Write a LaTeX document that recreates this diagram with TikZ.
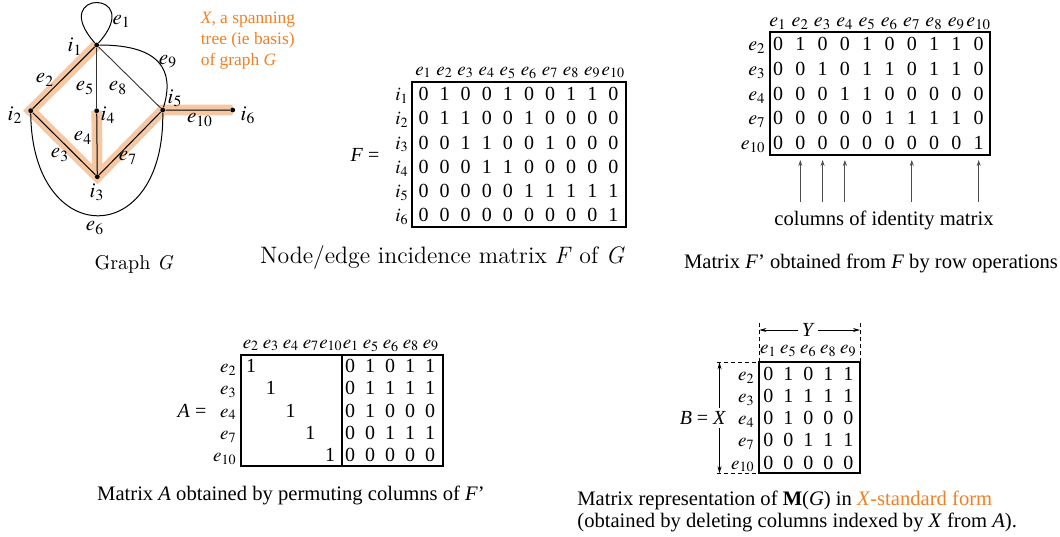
\documentclass[tikz,border=0pt]{standalone}
\usepackage{mathptmx}
\usepackage{fontspec}
\setmainfont{Liberation Serif}
\usetikzlibrary{arrows.meta,positioning}
\definecolor{treeorange}{RGB}{240,128,36}
\definecolor{treeband}{RGB}{246,199,163}
\pgfdeclarelayer{bg}
\pgfsetlayers{bg,main}
\tikzset{
  vtx/.style={circle,fill,inner sep=0pt,minimum size=2.4pt},
  glbl/.style={inner sep=0pt,font=\fontsize{10.5}{12}\selectfont},
  hdr/.style={inner sep=0pt,anchor=base,font=\fontsize{9.5}{11}\selectfont},
  rlbl/.style={inner sep=0pt,anchor=base east,font=\fontsize{9.5}{11}\selectfont},
  dig/.style={inner sep=0pt,anchor=base,font=\fontsize{10}{12}\selectfont},
  captxt/.style={inner sep=0pt,font=\fontsize{10.3}{12.5}\selectfont},
  mbox/.style={line width=0.9pt},
  idarr/.style={-{Stealth[length=3pt,width=2pt]},draw=black!70,line width=0.5pt},
  dimarr/.style={-{Stealth[length=3.5pt,width=2pt]},line width=0.4pt},
  guide/.style={dash pattern=on 2pt off 1.5pt,line width=0.4pt},
}
\begin{document}
\begin{tikzpicture}[x=0.5pt,y=-0.5pt]
\useasboundingbox (0,0) rectangle (1060,536);

% graph G
\node[vtx] (i1) at (96.7,45) {};
\node[vtx] (i2) at (30.7,110.7) {};
\node[vtx] (i3) at (97.3,176.7) {};
\node[vtx] (i4) at (96.7,110.7) {};
\node[vtx] (i5) at (162.7,110) {};
\node[vtx] (i6) at (232.7,110) {};
\begin{pgfonlayer}{bg}
  \draw[treeband,line width=5.3pt,line join=miter] (i1.center) -- (i2.center) -- (i3.center) -- (i5.center) -- (i6.center);
  \draw[treeband,line width=5.3pt] (i4.center) -- (i3.center);
\end{pgfonlayer}
\draw[line width=0.5pt] (i1) -- (i2) -- (i3) -- (i5) -- (i6);
\draw[line width=0.5pt] (i4) -- (i3);
\draw[line width=0.45pt,black!80] (i1) -- (i4);
\draw[line width=0.45pt,black!80] (i1) -- (i5);
\draw[line width=0.5pt] (i1) .. controls (46.7,-11) and (146.7,-11) .. (i1);
\draw[line width=0.5pt] (i1) .. controls (160,45) and (175,70) .. (i5);
\draw[line width=0.5pt] (i2) .. controls (32,250) and (165,250) .. (i5);
\node[glbl] (le1) at (121.7,21.7) {$e_1$};
\node[glbl] (le2) at (45,80) {$e_2$};
\node[glbl] (le3) at (60,155) {$e_3$};
\node[glbl] (le4) at (83,138) {$e_4$};
\node[glbl] (le5) at (85,88) {$e_5$};
\node[glbl] (le6) at (95,228) {$e_6$};
\node[glbl] (le7) at (128,158) {$e_7$};
\node[glbl] (le8) at (118,88) {$e_8$};
\node[glbl] (le9) at (168,62) {$e_9$};
\node[glbl] (le10) at (200,120) {$e_{10}$};
\node[glbl] (li1) at (75,46.7) {$i_1$};
\node[glbl] (li2) at (15,115) {$i_2$};
\node[glbl] (li3) at (97,192) {$i_3$};
\node[glbl] (li4) at (108,115) {$i_4$};
\node[glbl] (li5) at (175,98) {$i_5$};
\node[glbl] (li6) at (248,115) {$i_6$};
\node[inner sep=0pt,text=treeorange,align=left,anchor=west,font=\fontsize{8.7}{10.6}\selectfont] (xnote) at (200.5,40.5) {\textit{X}, a spanning\\tree (ie basis)\\of graph \textit{G}};
\node[inner sep=0pt,font=\fontfamily{lmr}\fontsize{10}{12}\selectfont] (gcap) at (134,264) {Graph \textit{G}};

% F
\node[dig] (Feq) at (365,161) {\textit{F} =};
\draw[mbox] (411.7,81.7) rectangle (626,226.7);
\foreach \k in {1,...,10}
  \node[hdr] (Fh\k) at ({423.5+21.1*(\k-1)},75) {$e_{\k}$};
\foreach \k in {1,...,6}
  \node[rlbl] (Fr\k) at (409,{100.6+24.2*(\k-1)}) {$i_{\k}$};
\foreach \row [count=\r] in {{0,1,0,0,1,0,0,1,1,0},{0,1,1,0,0,1,0,0,0,0},{0,0,1,1,0,0,1,0,0,0},{0,0,0,1,1,0,0,0,0,0},{0,0,0,0,0,1,1,1,1,1},{0,0,0,0,0,0,0,0,0,1}}
  \foreach \d [count=\c] in \row
    \node[dig] (F-\r-\c) at ({423.5+21.1*(\c-1)},{100.6+24.2*(\r-1)}) {\d};
\node[inner sep=0pt,font=\fontfamily{lmr}\fontsize{11.9}{14}\selectfont] (Fcap) at (442.5,258) {Node/edge incidence matrix \textit{F} of \textit{G}};

% F'
\draw[mbox] (770,31.7) rectangle (990,155);
\coordinate (Fpbot) at (770,155);
\foreach \k in {1,...,10}
  \node[hdr,font=\fontsize{10}{12}\selectfont] (Fph\k) at ({778+22.3*(\k-1)},26.7) {$e_{\k}$};
\foreach \lab [count=\r] in {2,3,4,7,10}
  \node[rlbl,font=\fontsize{10}{12}\selectfont] (Fpr\r) at (766,{50.8+24.7*(\r-1)}) {$e_{\lab}$};
\foreach \row [count=\r] in {{0,1,0,0,1,0,0,1,1,0},{0,0,1,0,1,1,0,1,1,0},{0,0,0,1,1,0,0,0,0,0},{0,0,0,0,0,1,1,1,1,0},{0,0,0,0,0,0,0,0,0,1}}
  \foreach \d [count=\c] in \row
    \node[dig] (Fp-\r-\c) at ({778+22.3*(\c-1)},{50.8+24.7*(\r-1)}) {\d};
\node[captxt] (idcap) at (884,220) {columns of identity matrix};
\foreach \k in {2,3,4,7,10}
  \draw[idarr,shorten <=4.3pt,shorten >=2.5pt] (idcap.north -| Fp-5-\k) -- (Fp-5-\k |- Fpbot);
\node[captxt] (Fpcap) at (871,263) {Matrix \textit{F}' obtained from \textit{F} by row operations};

% A
\node[dig] (Aeq) at (192,417) {\textit{A} =};
\draw[mbox] (240.7,355) rectangle (442.7,465.7);
\draw[mbox] (342.3,355) -- (342.3,465.7);
\foreach \lab [count=\k] in {2,3,4,7,10,1,5,6,8,9}
  \node[hdr] (Ah\k) at ({251+20*(\k-1)},348) {$e_{\lab}$};
\foreach \lab [count=\r] in {2,3,4,7,10} {
  \node[rlbl] (Ar\r) at (237,{372.8+22.15*(\r-1)}) {$e_{\lab}$};
  \node[dig] (AI\r) at ({251+19.75*(\r-1)},{372.8+22.15*(\r-1)}) {1};
}
\foreach \row [count=\r] in {{0,1,0,1,1},{0,1,1,1,1},{0,1,0,0,0},{0,0,1,1,1},{0,0,0,0,0}}
  \foreach \d [count=\c] in \row
    \node[dig] (A-\r-\c) at ({350+20*(\c-1)},{372.8+22.15*(\r-1)}) {\d};
\node[captxt] (Acap) at (291,495) {Matrix \textit{A} obtained by permuting columns of \textit{F}'};

% B
\coordinate (Btl) at (759.3,362.3);
\coordinate (Bbr) at (860,473.3);
\draw[mbox] (Btl) rectangle (Bbr);
\coordinate (Ytl) at (759.3,320.7);
\coordinate (Ytr) at (860,320.7);
\coordinate (Xtop) at (716.7,362.3);
\coordinate (Xbot) at (716.7,473.3);
\draw[guide] (Btl) -- (Ytl);
\draw[guide] (Btl -| Bbr) -- (Ytr);
\draw[guide] (Xtop) -- (Btl);
\draw[guide] (Xbot) -- (Btl |- Bbr);
\node[inner sep=1.5pt,font=\fontsize{10}{12}\selectfont] (Ylbl) at (808.3,330) {\textit{Y}};
\draw[dimarr] (Ylbl) -- (Ylbl -| Ytl);
\draw[dimarr] (Ylbl) -- (Ylbl -| Ytr);
\node[inner sep=1.5pt,font=\fontsize{10}{12}\selectfont] (Xlbl) at (719.5,418) {\textit{X}};
\draw[dimarr] (Xlbl) -- (Xlbl |- Xtop);
\draw[dimarr] (Xlbl) -- (Xlbl |- Xbot);
\node[dig] (Beq) at (694,424.6) {\textit{B} =};
\foreach \lab [count=\k] in {1,5,6,8,9}
  \node[hdr] (Bh\k) at ({768.3+20*(\k-1)},353.3) {$e_{\lab}$};
\foreach \lab [count=\r] in {2,3,4,7,10}
  \node[rlbl] (Br\r) at (755,{380.2+22.2*(\r-1)}) {$e_{\lab}$};
\foreach \row [count=\r] in {{0,1,0,1,1},{0,1,1,1,1},{0,1,0,0,0},{0,0,1,1,1},{0,0,0,0,0}}
  \foreach \d [count=\c] in \row
    \node[dig] (B-\r-\c) at ({768.3+20*(\c-1)},{380.2+22.2*(\r-1)}) {\d};
\node[captxt,anchor=west] (Bcap1) at (577,500) {Matrix representation of \textbf{M}(\textit{G}) in \textcolor{treeorange}{\textit{X}-standard form}};
\node[captxt,anchor=west] (Bcap2) at (577,522) {(obtained by deleting columns indexed by \textit{X} from \textit{A}).};
\end{tikzpicture}
\end{document}
